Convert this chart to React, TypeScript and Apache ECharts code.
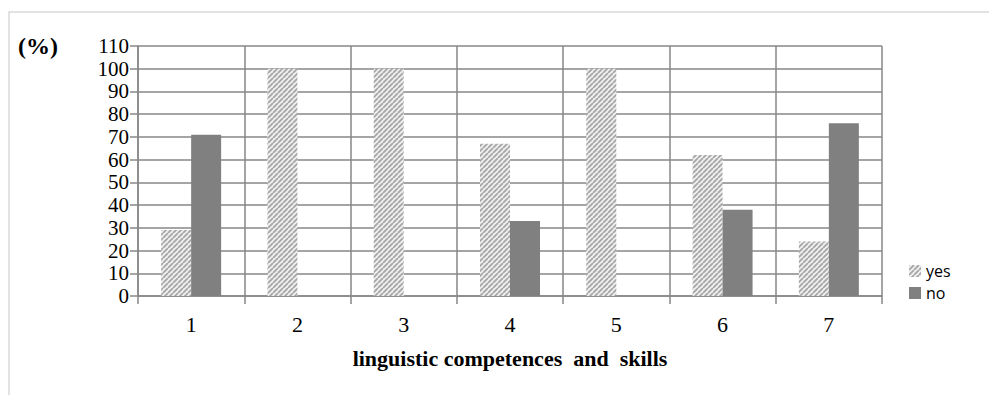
import React, { useEffect, useRef } from "react";
import * as echarts from "echarts";

const categories = ["1", "2", "3", "4", "5", "6", "7"];
const yesValues = [29, 100, 100, 67, 100, 62, 24];
const noValues = [71, 0, 0, 33, 0, 38, 76];
const seriesNames = ["yes", "no"];

function makeHatch(): HTMLCanvasElement {
  const c = document.createElement("canvas");
  c.width = 5;
  c.height = 5;
  const ctx = c.getContext("2d")!;
  ctx.fillStyle = "#f0f0f0";
  ctx.fillRect(0, 0, 5, 5);
  ctx.strokeStyle = "#a6a6a6";
  ctx.lineWidth = 1.8;
  ctx.beginPath();
  for (let k = -5; k <= 10; k += 5) {
    ctx.moveTo(k, 5);
    ctx.lineTo(k + 5, 0);
  }
  ctx.stroke();
  return c;
}

export default function App() {
  const ref = useRef<HTMLDivElement>(null);
  useEffect(() => {
    const chart = echarts.init(ref.current!, undefined, { renderer: "svg" });
    const hatch = makeHatch();
    const gridColor = "#878787";
    chart.setOption({
      animation: false,
      backgroundColor: "#ffffff",
      graphic: [
        {
          type: "rect",
          shape: { x: 1, y: 4, width: 1100, height: 600 },
          style: { fill: "none", stroke: "#d9d9d9", lineWidth: 1.5 },
          silent: true,
        },
        {
          type: "text",
          left: 10,
          top: 26,
          style: {
            text: "(%)",
            font: "bold 24px 'Liberation Serif'",
            fill: "#000",
          },
        },
      ],
      legend: {
        orient: "vertical",
        left: 896,
        top: 250,
        itemWidth: 12,
        itemHeight: 12,
        itemGap: 6,
        icon: "rect",
        textStyle: { fontFamily: "'Open Sans'", fontSize: 16, color: "#000" },
        data: seriesNames,
      },
      grid: { left: 130, right: 107, top: 38, bottom: 99 },
      xAxis: {
        type: "category",
        data: categories,
        boundaryGap: true,
        axisLine: { lineStyle: { color: gridColor, width: 1.5 } },
        axisTick: { show: true, length: 8, lineStyle: { color: gridColor, width: 1.5 } },
        splitLine: { show: true, lineStyle: { color: gridColor, width: 1.5 } },
        axisLabel: {
          fontFamily: "'Liberation Serif'",
          fontSize: 22,
          color: "#000",
          margin: 17,
        },
        name: "linguistic competences  and  skills",
        nameLocation: "middle",
        nameGap: 51,
        nameTextStyle: {
          fontFamily: "'Liberation Serif'",
          fontWeight: "bold",
          fontSize: 22,
          color: "#000",
        },
      },
      yAxis: {
        type: "value",
        min: 0,
        max: 110,
        interval: 10,
        axisLine: { show: true, lineStyle: { color: gridColor, width: 1.5 } },
        axisTick: { show: true, length: 8, lineStyle: { color: gridColor, width: 1.5 } },
        splitLine: { show: true, lineStyle: { color: gridColor, width: 1.5 } },
        axisLabel: {
          fontFamily: "'Liberation Serif'",
          fontSize: 21,
          color: "#000",
          margin: 9,
          lineHeight: 21,
          showMinLabel: true,
          showMaxLabel: true,
          hideOverlap: false,
        },
      },
      series: [
        {
          name: seriesNames[0],
          type: "bar",
          data: yesValues,
          barWidth: 30,
          barGap: "0%",
          itemStyle: { color: { image: hatch, repeat: "repeat" } },
        },
        {
          name: seriesNames[1],
          type: "bar",
          data: noValues,
          barWidth: 30,
          barGap: "0%",
          itemStyle: { color: "#808080" },
        },
      ],
    });
    return () => chart.dispose();
  }, []);
  return <div ref={ref} style={{ width: 981, height: 387 }} />;
}
